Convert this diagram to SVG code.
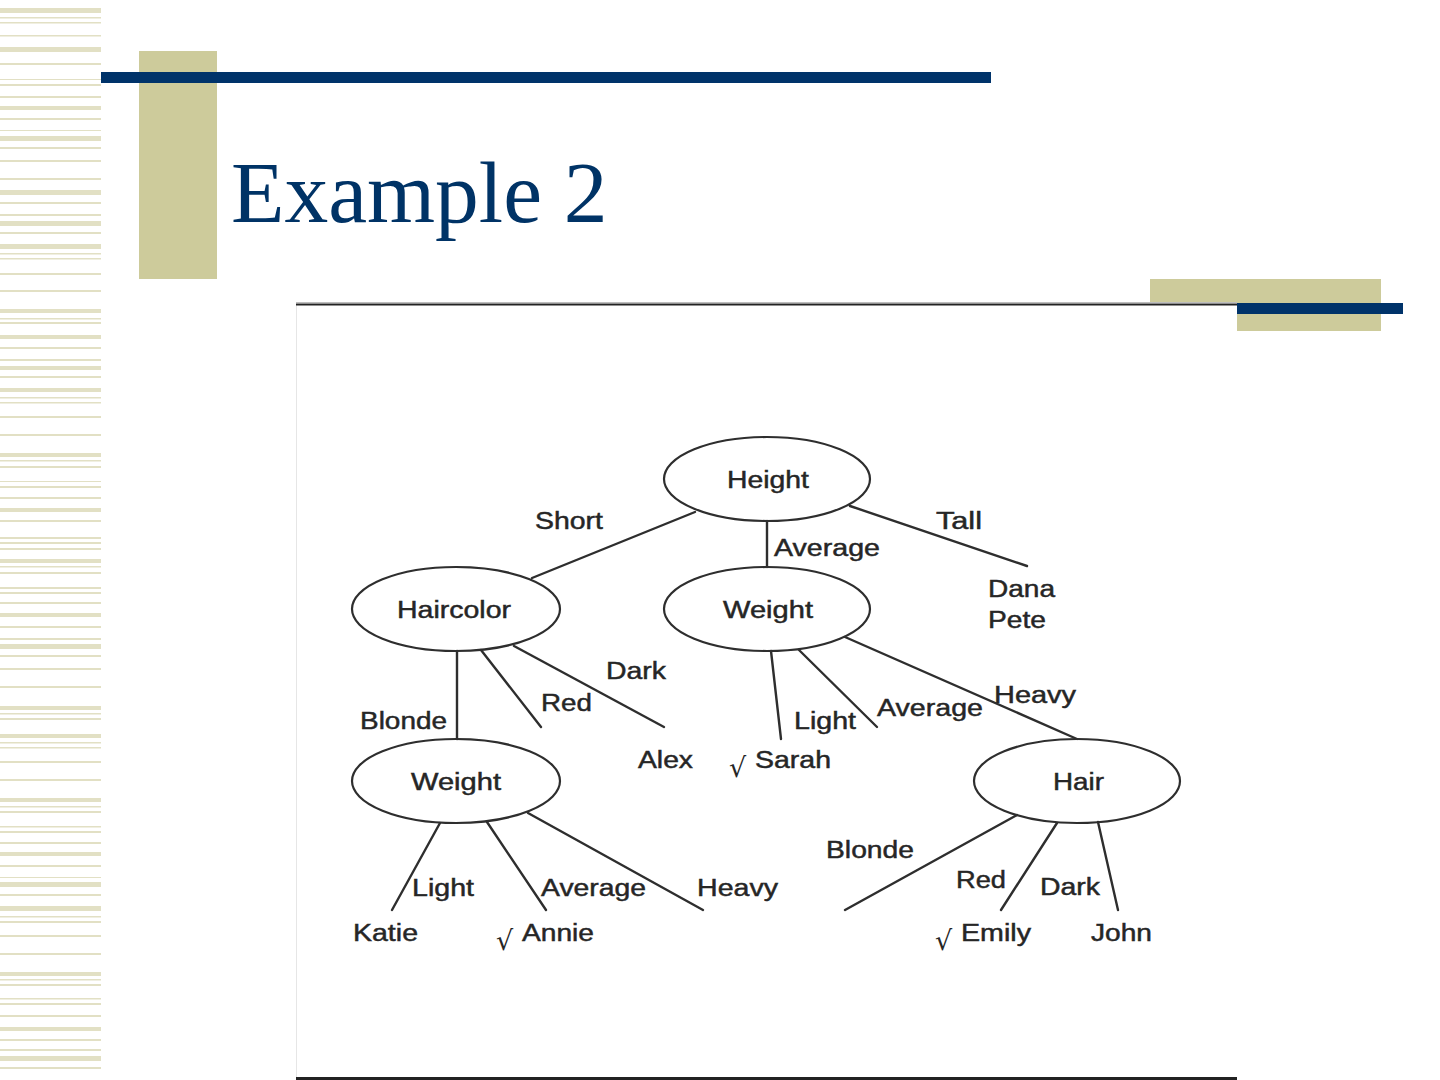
<svg xmlns="http://www.w3.org/2000/svg" width="1440" height="1080" viewBox="0 0 1440 1080">
<style>
.stripe{fill:#e2e0c4}
.node{fill:none;stroke:#2e2e2e;stroke-width:2.2}
.edge{stroke:#2e2e2e;stroke-width:2.4;fill:none;stroke-linecap:round}
.lbl{font-family:"Liberation Sans",Arial,sans-serif;font-size:23px;fill:#262626;stroke:#262626;stroke-width:0.45}
.chk{font-family:"DejaVu Sans",sans-serif;font-size:27px;fill:#262626}
</style>
<rect width="1440" height="1080" fill="#ffffff"/>
<g id="stripes">
<rect class="stripe" x="0" y="8" width="101" height="5"/>
<rect class="stripe" x="0" y="17" width="101" height="1.5"/>
<rect class="stripe" x="0" y="22" width="101" height="1.5"/>
<rect class="stripe" x="0" y="35" width="101" height="1.5"/>
<rect class="stripe" x="0" y="47" width="101" height="5"/>
<rect class="stripe" x="0" y="63" width="101" height="2"/>
<rect class="stripe" x="0" y="79" width="101" height="1"/>
<rect class="stripe" x="0" y="84" width="101" height="2"/>
<rect class="stripe" x="0" y="96" width="101" height="2"/>
<rect class="stripe" x="0" y="106" width="101" height="4"/>
<rect class="stripe" x="0" y="118" width="101" height="2"/>
<rect class="stripe" x="0" y="130" width="101" height="1"/>
<rect class="stripe" x="0" y="136" width="101" height="5"/>
<rect class="stripe" x="0" y="147" width="101" height="2"/>
<rect class="stripe" x="0" y="160" width="101" height="2"/>
<rect class="stripe" x="0" y="178" width="101" height="2"/>
<rect class="stripe" x="0" y="190" width="101" height="5"/>
<rect class="stripe" x="0" y="202" width="101" height="2"/>
<rect class="stripe" x="0" y="214" width="101" height="2"/>
<rect class="stripe" x="0" y="221" width="101" height="5"/>
<rect class="stripe" x="0" y="232" width="101" height="2"/>
<rect class="stripe" x="0" y="244" width="101" height="5"/>
<rect class="stripe" x="0" y="253" width="101" height="1.5"/>
<rect class="stripe" x="0" y="258" width="101" height="1.5"/>
<rect class="stripe" x="0" y="273" width="101" height="2"/>
<rect class="stripe" x="0" y="290" width="101" height="2"/>
<rect class="stripe" x="0" y="309" width="101" height="4"/>
<rect class="stripe" x="0" y="318" width="101" height="1.5"/>
<rect class="stripe" x="0" y="322" width="101" height="2"/>
<rect class="stripe" x="0" y="335" width="101" height="4"/>
<rect class="stripe" x="0" y="347" width="101" height="2"/>
<rect class="stripe" x="0" y="359" width="101" height="2"/>
<rect class="stripe" x="0" y="366" width="101" height="4"/>
<rect class="stripe" x="0" y="376" width="101" height="2"/>
<rect class="stripe" x="0" y="388" width="101" height="4"/>
<rect class="stripe" x="0" y="397" width="101" height="1.5"/>
<rect class="stripe" x="0" y="402" width="101" height="1.5"/>
<rect class="stripe" x="0" y="416" width="101" height="2"/>
<rect class="stripe" x="0" y="434" width="101" height="2"/>
<rect class="stripe" x="0" y="453" width="101" height="4"/>
<rect class="stripe" x="0" y="460" width="101" height="1.5"/>
<rect class="stripe" x="0" y="466" width="101" height="2"/>
<rect class="stripe" x="0" y="481" width="101" height="1"/>
<rect class="stripe" x="0" y="486" width="101" height="2"/>
<rect class="stripe" x="0" y="497" width="101" height="2"/>
<rect class="stripe" x="0" y="508" width="101" height="4"/>
<rect class="stripe" x="0" y="520" width="101" height="2"/>
<rect class="stripe" x="0" y="537" width="101" height="2"/>
<rect class="stripe" x="0" y="542" width="101" height="2"/>
<rect class="stripe" x="0" y="548" width="101" height="2"/>
<rect class="stripe" x="0" y="559" width="101" height="4"/>
<rect class="stripe" x="0" y="566" width="101" height="1.5"/>
<rect class="stripe" x="0" y="572" width="101" height="2"/>
<rect class="stripe" x="0" y="587" width="101" height="2"/>
<rect class="stripe" x="0" y="592" width="101" height="2"/>
<rect class="stripe" x="0" y="602" width="101" height="2"/>
<rect class="stripe" x="0" y="613" width="101" height="4"/>
<rect class="stripe" x="0" y="626" width="101" height="2"/>
<rect class="stripe" x="0" y="638" width="101" height="2"/>
<rect class="stripe" x="0" y="644" width="101" height="5"/>
<rect class="stripe" x="0" y="655" width="101" height="2"/>
<rect class="stripe" x="0" y="668" width="101" height="2"/>
<rect class="stripe" x="0" y="686" width="101" height="2"/>
<rect class="stripe" x="0" y="706" width="101" height="4"/>
<rect class="stripe" x="0" y="713" width="101" height="1.5"/>
<rect class="stripe" x="0" y="718" width="101" height="2"/>
<rect class="stripe" x="0" y="734" width="101" height="4"/>
<rect class="stripe" x="0" y="742" width="101" height="1.5"/>
<rect class="stripe" x="0" y="747" width="101" height="1.5"/>
<rect class="stripe" x="0" y="761" width="101" height="2"/>
<rect class="stripe" x="0" y="779" width="101" height="2"/>
<rect class="stripe" x="0" y="798" width="101" height="4"/>
<rect class="stripe" x="0" y="806" width="101" height="1.5"/>
<rect class="stripe" x="0" y="811" width="101" height="2"/>
<rect class="stripe" x="0" y="826" width="101" height="1.5"/>
<rect class="stripe" x="0" y="831" width="101" height="2"/>
<rect class="stripe" x="0" y="842" width="101" height="2"/>
<rect class="stripe" x="0" y="852" width="101" height="4"/>
<rect class="stripe" x="0" y="865" width="101" height="2"/>
<rect class="stripe" x="0" y="877" width="101" height="1"/>
<rect class="stripe" x="0" y="882" width="101" height="5"/>
<rect class="stripe" x="0" y="894" width="101" height="2"/>
<rect class="stripe" x="0" y="906" width="101" height="5"/>
<rect class="stripe" x="0" y="916" width="101" height="1.5"/>
<rect class="stripe" x="0" y="921" width="101" height="2"/>
<rect class="stripe" x="0" y="935" width="101" height="2"/>
<rect class="stripe" x="0" y="953" width="101" height="2"/>
<rect class="stripe" x="0" y="972" width="101" height="4"/>
<rect class="stripe" x="0" y="979" width="101" height="1.5"/>
<rect class="stripe" x="0" y="984" width="101" height="2"/>
<rect class="stripe" x="0" y="998" width="101" height="1.5"/>
<rect class="stripe" x="0" y="1003" width="101" height="2"/>
<rect class="stripe" x="0" y="1015" width="101" height="2"/>
<rect class="stripe" x="0" y="1027" width="101" height="4"/>
<rect class="stripe" x="0" y="1039" width="101" height="2"/>
<rect class="stripe" x="0" y="1049" width="101" height="2"/>
<rect class="stripe" x="0" y="1056" width="101" height="5"/>
<rect class="stripe" x="0" y="1067" width="101" height="2"/>
</g>
<g id="decoration">
<rect x="139" y="51" width="78" height="228" fill="#cdcb9b"/>
<rect x="101" y="72" width="890" height="11" fill="#00336a"/>
<rect x="1150" y="279" width="231" height="52" fill="#cdcb9b"/>
</g>
<text x="231" y="222" font-family="Liberation Serif,'Times New Roman',serif" font-size="87.5" fill="#003366">Example 2</text>
<g id="frame">
<rect x="296" y="302" width="941" height="778" fill="#ffffff"/>
<line x1="296.5" y1="305" x2="296.5" y2="1078" stroke="#e6e6e6" stroke-width="1"/>
<line x1="296" y1="302.5" x2="1237" y2="302.5" stroke="#bdbdbd" stroke-width="1"/>
<line x1="296" y1="304.5" x2="1237" y2="304.5" stroke="#222222" stroke-width="2"/>
<line x1="296" y1="1078.5" x2="1237" y2="1078.5" stroke="#222222" stroke-width="3"/>
</g>
<rect x="1237" y="303" width="166" height="11" fill="#00336a"/>
<g id="connectors">
<line class="edge" x1="695" y1="512" x2="532" y2="578"/>
<line class="edge" x1="767" y1="521" x2="767" y2="567"/>
<line class="edge" x1="850" y1="506" x2="1027" y2="566"/>
<line class="edge" x1="457" y1="651" x2="457" y2="739"/>
<line class="edge" x1="481" y1="650" x2="541" y2="727"/>
<line class="edge" x1="514" y1="646" x2="664" y2="727"/>
<line class="edge" x1="771" y1="651" x2="781" y2="739"/>
<line class="edge" x1="799" y1="650" x2="877" y2="727"/>
<line class="edge" x1="845" y1="637" x2="1077" y2="739"/>
<line class="edge" x1="440" y1="823" x2="392" y2="910"/>
<line class="edge" x1="487" y1="822" x2="546" y2="910"/>
<line class="edge" x1="528" y1="813" x2="703" y2="910"/>
<line class="edge" x1="1017" y1="815" x2="845" y2="910"/>
<line class="edge" x1="1057" y1="823" x2="1001" y2="910"/>
<line class="edge" x1="1098" y1="822" x2="1118" y2="910"/>
</g>
<g id="edge-labels">
<text class="lbl" x="535" y="529" textLength="68" lengthAdjust="spacingAndGlyphs">Short</text>
<text class="lbl" x="774" y="556" textLength="106" lengthAdjust="spacingAndGlyphs">Average</text>
<text class="lbl" x="936" y="529" textLength="46" lengthAdjust="spacingAndGlyphs">Tall</text>
<text class="lbl" x="360" y="729" textLength="87" lengthAdjust="spacingAndGlyphs">Blonde</text>
<text class="lbl" x="541" y="711" textLength="51" lengthAdjust="spacingAndGlyphs">Red</text>
<text class="lbl" x="606" y="679" textLength="60" lengthAdjust="spacingAndGlyphs">Dark</text>
<text class="lbl" x="794" y="729" textLength="62" lengthAdjust="spacingAndGlyphs">Light</text>
<text class="lbl" x="877" y="716" textLength="106" lengthAdjust="spacingAndGlyphs">Average</text>
<text class="lbl" x="994" y="703" textLength="82" lengthAdjust="spacingAndGlyphs">Heavy</text>
<text class="lbl" x="412" y="896" textLength="62" lengthAdjust="spacingAndGlyphs">Light</text>
<text class="lbl" x="541" y="896" textLength="105" lengthAdjust="spacingAndGlyphs">Average</text>
<text class="lbl" x="697" y="896" textLength="81" lengthAdjust="spacingAndGlyphs">Heavy</text>
<text class="lbl" x="826" y="858" textLength="88" lengthAdjust="spacingAndGlyphs">Blonde</text>
<text class="lbl" x="956" y="888" textLength="50" lengthAdjust="spacingAndGlyphs">Red</text>
<text class="lbl" x="1040" y="895" textLength="60" lengthAdjust="spacingAndGlyphs">Dark</text>
</g>
<g id="node-height"><ellipse class="node" cx="767" cy="479" rx="103" ry="42"/><text class="lbl" x="727" y="488" textLength="82" lengthAdjust="spacingAndGlyphs">Height</text></g>
<g id="node-haircolor"><ellipse class="node" cx="456" cy="609" rx="104" ry="42"/><text class="lbl" x="397" y="618" textLength="114" lengthAdjust="spacingAndGlyphs">Haircolor</text></g>
<g id="node-weight-mid"><ellipse class="node" cx="767" cy="609" rx="103" ry="42"/><text class="lbl" x="723" y="618" textLength="90" lengthAdjust="spacingAndGlyphs">Weight</text></g>
<g id="node-weight-left"><ellipse class="node" cx="456" cy="781" rx="104" ry="42"/><text class="lbl" x="411" y="790" textLength="90" lengthAdjust="spacingAndGlyphs">Weight</text></g>
<g id="node-hair"><ellipse class="node" cx="1077" cy="781" rx="103" ry="42"/><text class="lbl" x="1053" y="790" textLength="51" lengthAdjust="spacingAndGlyphs">Hair</text></g>
<g id="leaf-dana-pete"><text class="lbl" x="988" y="597" textLength="67" lengthAdjust="spacingAndGlyphs">Dana</text><text class="lbl" x="988" y="628" textLength="58" lengthAdjust="spacingAndGlyphs">Pete</text></g>
<g id="leaf-alex"><text class="lbl" x="638" y="768" textLength="55" lengthAdjust="spacingAndGlyphs">Alex</text></g>
<g id="leaf-sarah"><text class="chk" x="729" y="777">√</text><text class="lbl" x="755" y="768" textLength="76" lengthAdjust="spacingAndGlyphs">Sarah</text></g>
<g id="leaf-katie"><text class="lbl" x="353" y="941" textLength="65" lengthAdjust="spacingAndGlyphs">Katie</text></g>
<g id="leaf-annie"><text class="chk" x="496" y="950">√</text><text class="lbl" x="522" y="941" textLength="72" lengthAdjust="spacingAndGlyphs">Annie</text></g>
<g id="leaf-emily"><text class="chk" x="935" y="950">√</text><text class="lbl" x="961" y="941" textLength="70" lengthAdjust="spacingAndGlyphs">Emily</text></g>
<g id="leaf-john"><text class="lbl" x="1091" y="941" textLength="61" lengthAdjust="spacingAndGlyphs">John</text></g>
</svg>
